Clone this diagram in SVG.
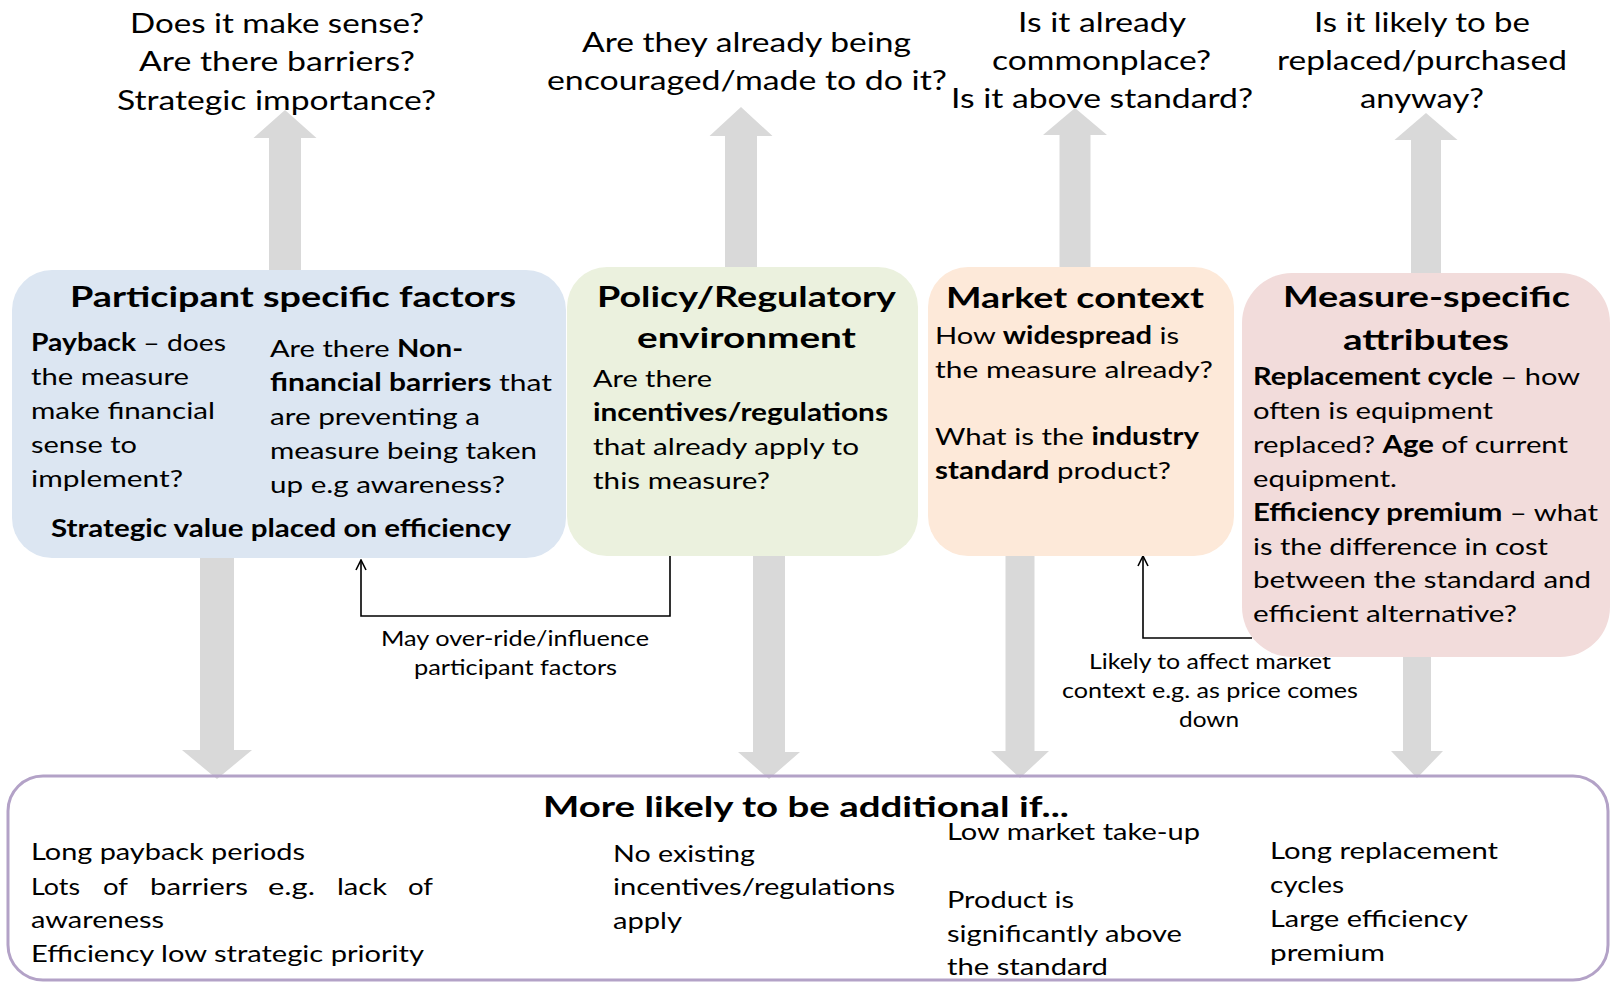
<svg xmlns="http://www.w3.org/2000/svg" width="1612" height="982" viewBox="0 0 1612 982">
  <defs>
    <style>
      text { font-family: Lato, "Open Sans", "Liberation Sans", sans-serif; fill: #000; }
      .q { font-size: 26px; }
      .t { font-size: 29px; font-weight: 700; }
      .b { font-size: 24px; }
      .s { font-size: 21px; }
      .bd { font-weight: 700; }
      .arrow { fill: #D9D9D9; }
      .link { fill: none; stroke: #000; stroke-width: 1.6; }
    </style>
    <marker id="open" viewBox="0 0 12 12" refX="11" refY="6" markerWidth="12" markerHeight="12" markerUnits="userSpaceOnUse" orient="auto">
      <path d="M1,1 L11,6 L1,11" fill="none" stroke="#000" stroke-width="1.6"/>
    </marker>
  </defs>

  <rect width="1612" height="982" fill="#fff"/>

  <!-- questions above each factor -->
  <g id="questions" class="q">
    <text x="130" y="33" textLength="294" lengthAdjust="spacingAndGlyphs">Does it make sense?</text>
    <text x="139" y="71" textLength="276" lengthAdjust="spacingAndGlyphs">Are there barriers?</text>
    <text x="117" y="110" textLength="319" lengthAdjust="spacingAndGlyphs">Strategic importance?</text>
    <text x="582" y="52" textLength="329" lengthAdjust="spacingAndGlyphs">Are they already being</text>
    <text x="547" y="90" textLength="400" lengthAdjust="spacingAndGlyphs">encouraged/made to do it?</text>
    <text x="1018" y="32" textLength="168" lengthAdjust="spacingAndGlyphs">Is it already</text>
    <text x="992" y="70" textLength="219" lengthAdjust="spacingAndGlyphs">commonplace?</text>
    <text x="951" y="108" textLength="302" lengthAdjust="spacingAndGlyphs">Is it above standard?</text>
    <text x="1314" y="32" textLength="216" lengthAdjust="spacingAndGlyphs">Is it likely to be</text>
    <text x="1277" y="70" textLength="290" lengthAdjust="spacingAndGlyphs">replaced/purchased</text>
    <text x="1360" y="108" textLength="124" lengthAdjust="spacingAndGlyphs">anyway?</text>
  </g>

  <!-- broad grey arrows: up to the questions, down to the summary -->
  <g id="block-arrows" class="arrow">
    <path d="M269,272 V138 H253.5 L285,110 L316.5,138 H301 V272 Z"/>
    <path d="M725,270 V136 H709.5 L741,107 L772.5,136 H757 V270 Z"/>
    <path d="M1059.5,270 V135 H1043 L1075,108 L1107,135 H1090.5 V270 Z"/>
    <path d="M1411,276 V140 H1394.5 L1426,113 L1457.5,140 H1441 V276 Z"/>
    <path d="M200,555 V750 H182 L217,779 L252,750 H234 V555 Z"/>
    <path d="M753,553 V752 H738 L769,779 L800,752 H785 V553 Z"/>
    <path d="M1005.5,553 V751 H991 L1020,778 L1049,751 H1034.5 V553 Z"/>
    <path d="M1403,650 V751 H1391 L1417,778 L1443,751 H1431 V650 Z"/>
  </g>

  <!-- influence connectors with their labels -->
  <g id="connectors">
    <path class="link" d="M670,556 V616 H361 V560" marker-end="url(#open)"/>
    <path class="link" d="M1252,638 H1143 V556" marker-end="url(#open)"/>
    <text class="s" x="381" y="646" textLength="268" lengthAdjust="spacingAndGlyphs">May over-ride/influence</text>
    <text class="s" x="414" y="675" textLength="203" lengthAdjust="spacingAndGlyphs">participant factors</text>
    <text class="s" x="1089" y="669" textLength="242" lengthAdjust="spacingAndGlyphs">Likely to affect market</text>
    <text class="s" x="1062" y="698" textLength="296" lengthAdjust="spacingAndGlyphs">context e.g. as price comes</text>
    <text class="s" x="1179" y="727" textLength="60" lengthAdjust="spacingAndGlyphs">down</text>
  </g>

  <!-- participant specific factors -->
  <g id="participant">
    <rect x="12" y="270" width="554" height="288" rx="40" fill="#DCE6F2"/>
    <text class="t" x="70" y="307" textLength="446" lengthAdjust="spacingAndGlyphs">Participant specific factors</text>
    <g class="b">
      <text x="31" y="351" textLength="195" lengthAdjust="spacingAndGlyphs"><tspan class="bd">Payback</tspan> – does</text>
      <text x="31" y="385" textLength="158" lengthAdjust="spacingAndGlyphs">the measure</text>
      <text x="31" y="419" textLength="184" lengthAdjust="spacingAndGlyphs">make financial</text>
      <text x="31" y="453" textLength="106" lengthAdjust="spacingAndGlyphs">sense to</text>
      <text x="31" y="487" textLength="152" lengthAdjust="spacingAndGlyphs">implement?</text>
      <text x="270" y="357" textLength="193" lengthAdjust="spacingAndGlyphs">Are there <tspan class="bd">Non-</tspan></text>
      <text x="270" y="391" textLength="282" lengthAdjust="spacingAndGlyphs"><tspan class="bd">financial barriers</tspan> that</text>
      <text x="270" y="425" textLength="210" lengthAdjust="spacingAndGlyphs">are preventing a</text>
      <text x="270" y="459" textLength="267" lengthAdjust="spacingAndGlyphs">measure being taken</text>
      <text x="270" y="493" textLength="235" lengthAdjust="spacingAndGlyphs">up e.g awareness?</text>
      <text class="bd" x="51" y="537" textLength="460" lengthAdjust="spacingAndGlyphs">Strategic value placed on efficiency</text>
    </g>
  </g>

  <!-- policy / regulatory environment -->
  <g id="policy">
    <rect x="567" y="267" width="351" height="289" rx="40" fill="#EBF1DE"/>
    <text class="t" x="597" y="307" textLength="299" lengthAdjust="spacingAndGlyphs">Policy/Regulatory</text>
    <text class="t" x="637" y="348" textLength="219" lengthAdjust="spacingAndGlyphs">environment</text>
    <g class="b">
      <text x="593" y="387" textLength="119" lengthAdjust="spacingAndGlyphs">Are there</text>
      <text class="bd" x="593" y="421" textLength="295" lengthAdjust="spacingAndGlyphs">incentives/regulations</text>
      <text x="593" y="455" textLength="266" lengthAdjust="spacingAndGlyphs">that already apply to</text>
      <text x="593" y="489" textLength="177" lengthAdjust="spacingAndGlyphs">this measure?</text>
    </g>
  </g>

  <!-- market context -->
  <g id="market">
    <rect x="928" y="267" width="306" height="289" rx="40" fill="#FDE9D9"/>
    <text class="t" x="946" y="308" textLength="258" lengthAdjust="spacingAndGlyphs">Market context</text>
    <g class="b">
      <text x="935" y="344" textLength="244" lengthAdjust="spacingAndGlyphs">How <tspan class="bd">widespread</tspan> is</text>
      <text x="935" y="378" textLength="278" lengthAdjust="spacingAndGlyphs">the measure already?</text>
      <text x="935" y="445" textLength="264" lengthAdjust="spacingAndGlyphs">What is the <tspan class="bd">industry</tspan></text>
      <text x="935" y="479" textLength="236" lengthAdjust="spacingAndGlyphs"><tspan class="bd">standard</tspan> product?</text>
    </g>
  </g>

  <!-- measure-specific attributes -->
  <g id="measure">
    <rect x="1242" y="273" width="368" height="384" rx="50" fill="#F2DCDB"/>
    <text class="t" x="1283" y="307" textLength="287" lengthAdjust="spacingAndGlyphs">Measure-specific</text>
    <text class="t" x="1343" y="350" textLength="166" lengthAdjust="spacingAndGlyphs">attributes</text>
    <g class="b">
      <text x="1253" y="385" textLength="327" lengthAdjust="spacingAndGlyphs"><tspan class="bd">Replacement cycle</tspan> – how</text>
      <text x="1253" y="419" textLength="240" lengthAdjust="spacingAndGlyphs">often is equipment</text>
      <text x="1253" y="453" textLength="315" lengthAdjust="spacingAndGlyphs">replaced? <tspan class="bd">Age</tspan> of current</text>
      <text x="1253" y="487" textLength="144" lengthAdjust="spacingAndGlyphs">equipment.</text>
      <text x="1253" y="521" textLength="345" lengthAdjust="spacingAndGlyphs"><tspan class="bd">Efficiency premium</tspan> – what</text>
      <text x="1253" y="555" textLength="295" lengthAdjust="spacingAndGlyphs">is the difference in cost</text>
      <text x="1253" y="588" textLength="338" lengthAdjust="spacingAndGlyphs">between the standard and</text>
      <text x="1253" y="622" textLength="264" lengthAdjust="spacingAndGlyphs">efficient alternative?</text>
    </g>
  </g>

  <!-- summary: more likely to be additional if -->
  <g id="additional">
    <rect x="8" y="776" width="1600" height="204" rx="35" fill="none" stroke="#B3A2C7" stroke-width="3"/>
    <text class="t" x="543" y="817" font-size="31" textLength="526" lengthAdjust="spacingAndGlyphs">More likely to be additional if...</text>
    <g class="b">
      <text x="31" y="860" textLength="274" lengthAdjust="spacingAndGlyphs">Long payback periods</text>
      <!-- justified line: each word placed on its own -->
      <text x="31" y="895" textLength="49" lengthAdjust="spacingAndGlyphs">Lots</text>
      <text x="103" y="895" textLength="25" lengthAdjust="spacingAndGlyphs">of</text>
      <text x="150" y="895" textLength="98" lengthAdjust="spacingAndGlyphs">barriers</text>
      <text x="268" y="895" textLength="47" lengthAdjust="spacingAndGlyphs">e.g.</text>
      <text x="337" y="895" textLength="50" lengthAdjust="spacingAndGlyphs">lack</text>
      <text x="408" y="895" textLength="25" lengthAdjust="spacingAndGlyphs">of</text>
      <text x="31" y="928" textLength="133" lengthAdjust="spacingAndGlyphs">awareness</text>
      <text x="31" y="962" textLength="393" lengthAdjust="spacingAndGlyphs">Efficiency low strategic priority</text>
      <text x="613" y="862" textLength="142" lengthAdjust="spacingAndGlyphs">No existing</text>
      <text x="613" y="895" textLength="282" lengthAdjust="spacingAndGlyphs">incentives/regulations</text>
      <text x="613" y="929" textLength="69" lengthAdjust="spacingAndGlyphs">apply</text>
      <text x="947" y="840" textLength="253" lengthAdjust="spacingAndGlyphs">Low market take-up</text>
      <text x="947" y="908" textLength="127" lengthAdjust="spacingAndGlyphs">Product is</text>
      <text x="947" y="942" textLength="235" lengthAdjust="spacingAndGlyphs">significantly above</text>
      <text x="947" y="975" textLength="161" lengthAdjust="spacingAndGlyphs">the standard</text>
      <text x="1270" y="859" textLength="228" lengthAdjust="spacingAndGlyphs">Long replacement</text>
      <text x="1270" y="893" textLength="74" lengthAdjust="spacingAndGlyphs">cycles</text>
      <text x="1270" y="927" textLength="198" lengthAdjust="spacingAndGlyphs">Large efficiency</text>
      <text x="1270" y="961" textLength="115" lengthAdjust="spacingAndGlyphs">premium</text>
    </g>
  </g>
</svg>
